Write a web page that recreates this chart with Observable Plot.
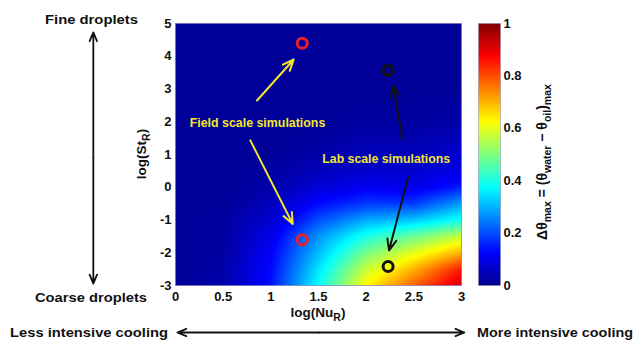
<!DOCTYPE html>
<html><head><meta charset="utf-8">
<script src="https://cdn.jsdelivr.net/npm/d3@7"></script>
<script src="https://cdn.jsdelivr.net/npm/@observablehq/plot@0.6"></script>
<style>
body{margin:0;background:#fff;}
#wrap{position:relative;width:637px;height:340px;overflow:hidden;}
#wrap svg{position:absolute;top:0;overflow:visible;}
</style></head><body><div id="wrap"></div>
<script>
// ---- data ----
const xTicks = [0, 0.5, 1, 1.5, 2, 2.5, 3];
const yTicks = [-3, -2, -1, 0, 1, 2, 3, 4, 5];
const cbTicks = [0, 0.2, 0.4, 0.6, 0.8, 1];
const gridX = [0, 0.5, 1, 1.5, 2, 2.5, 3];                        // log(Nu_R)
const gridY = [-3, -2.5, -2, -1.5, -1, -0.5, 0, 0.5, 1, 2, 3, 4, 5]; // log(St_R)
const dTheta = [
  [0.01, 0.03, 0.14, 0.38, 0.63, 0.78, 0.92],
  [0.01, 0.03, 0.13, 0.35, 0.57, 0.70, 0.85],
  [0.01, 0.02, 0.12, 0.31, 0.49, 0.60, 0.70],
  [0.01, 0.02, 0.10, 0.27, 0.40, 0.48, 0.57],
  [0.01, 0.02, 0.07, 0.20, 0.29, 0.32, 0.39],
  [0.01, 0.01, 0.05, 0.13, 0.18, 0.18, 0.28],
  [0.01, 0.01, 0.03, 0.08, 0.11, 0.10, 0.15],
  [0.01, 0.01, 0.02, 0.05, 0.07, 0.07, 0.10],
  [0.01, 0.01, 0.01, 0.03, 0.05, 0.05, 0.07],
  [0.01, 0.01, 0.01, 0.01, 0.02, 0.02, 0.03],
  [0.01, 0.01, 0.01, 0.01, 0.01, 0.01, 0.01],
  [0.01, 0.01, 0.01, 0.01, 0.01, 0.01, 0.01],
  [0.01, 0.01, 0.01, 0.01, 0.01, 0.01, 0.01]
];
const fieldNu = [1.33, 1.33];
const fieldSt = [4.4, -1.6];
const labNu = [2.23, 2.23];
const labSt = [3.57, -2.42];
const fieldLabel = [{x: 0.86, y: 1.95, text: "Field scale simulations"}];
const labLabel = [{x: 2.21, y: 0.87, text: "Lab scale simulations"}];
const fieldArrows = [
  {x1: 0.855, y1: 2.65, x2: 1.24, y2: 3.9},
  {x1: 0.785, y1: 1.43, x2: 1.23, y2: -1.12}
];
const labArrows = [
  {x1: 2.38, y1: 1.48, x2: 2.285, y2: 3.1},
  {x1: 2.44, y1: 0.31, x2: 2.24, y2: -1.93}
];
const sideArrows = [
  {x1: -0.862, y1: 0.9, x2: -0.862, y2: 4.73},
  {x1: -0.862, y1: 0.9, x2: -0.862, y2: -2.94},
  {x1: 1.5, y1: -4.435, x2: 0.02, y2: -4.435},
  {x1: 1.5, y1: -4.435, x2: 3.03, y2: -4.435}
];

// ---- styles ----
const FONT = '"Liberation Sans", Arial, sans-serif';
const jetDomain = [0, 0.125, 0.375, 0.625, 0.875, 1];
const jetRange = ["#00008f", "#0000ff", "#00ffff", "#ffff00", "#ff0000", "#800000"];
const colorScale = {type: "linear", domain: jetDomain, range: jetRange, interpolate: "rgb", clamp: true};
const YELLOW = "#f2e530";

const cells = [];
gridY.forEach((y, i) => gridX.forEach((x, j) => cells.push({x, y, v: dTheta[i][j]})));
const fieldPts = fieldNu.map((x, i) => ({x, y: fieldSt[i]}));
const labPts = labNu.map((x, i) => ({x, y: labSt[i]}));

// bilinear interpolation between the grid samples (custom raster interpolator)
function bilinear(index, width, height, X, Y, V) {
  const xs = Array.from(new Set(Array.from(index, i => X[i]))).sort((a, b) => a - b);
  const ys = Array.from(new Set(Array.from(index, i => Y[i]))).sort((a, b) => a - b);
  const m = new Map();
  for (const i of index) m.set(X[i] + "," + Y[i], +V[i]);
  const get = (a, b) => m.get(xs[a] + "," + ys[b]);
  const out = new Float64Array(width * height);
  for (let r = 0; r < height; r++) {
    const py = r + 0.5;
    let b = 0;
    while (b < ys.length - 2 && py > ys[b + 1]) b++;
    const ty = Math.max(0, Math.min(1, (py - ys[b]) / (ys[b + 1] - ys[b])));
    for (let c = 0; c < width; c++) {
      const px = c + 0.5;
      let a = 0;
      while (a < xs.length - 2 && px > xs[a + 1]) a++;
      const tx = Math.max(0, Math.min(1, (px - xs[a]) / (xs[a + 1] - xs[a])));
      const v0 = get(a, b) * (1 - tx) + get(a + 1, b) * tx;
      const v1 = get(a, b + 1) * (1 - tx) + get(a + 1, b + 1) * tx;
      out[r * width + c] = v0 * (1 - ty) + v1 * ty;
    }
  }
  return out;
}

const main = Plot.plot({
  width: 637, height: 340,
  marginLeft: 175, marginRight: 176, marginTop: 23, marginBottom: 55,
  style: {fontFamily: FONT, fontWeight: "bold", fontSize: "13px", background: "transparent", color: "#111"},
  x: {domain: [0, 3], ticks: xTicks, tickSize: 0, tickPadding: 6, label: null, tickFormat: d => String(d)},
  y: {domain: [-3, 5], ticks: yTicks, tickSize: 0, tickPadding: 4, label: null, tickFormat: d => String(d)},
  color: colorScale,
  marks: [
    Plot.raster(cells, {x: "x", y: "y", fill: "v", interpolate: bilinear, x1: 0, x2: 3, y1: -3, y2: 5, pixelSize: 1}),
    Plot.frame({stroke: "#6a6ab8", strokeWidth: 0.6}),
    Plot.arrow(fieldArrows, {x1: "x1", y1: "y1", x2: "x2", y2: "y2", stroke: YELLOW, strokeWidth: 2, headLength: 9, headAngle: 45}),
    Plot.arrow(labArrows, {x1: "x1", y1: "y1", x2: "x2", y2: "y2", stroke: "#111", strokeWidth: 2, headLength: 9, headAngle: 45}),
    Plot.arrow(sideArrows, {x1: "x1", y1: "y1", x2: "x2", y2: "y2", stroke: "#111", strokeWidth: 1.8, headLength: 8, headAngle: 45}),
    Plot.dot(fieldPts, {x: "x", y: "y", r: 5, stroke: "#e5202c", strokeWidth: 3, fill: "none"}),
    Plot.dot(labPts, {x: "x", y: "y", r: 5, stroke: "#111", strokeWidth: 3, fill: "none"}),
    Plot.text(fieldLabel, {x: "x", y: "y", text: "text", fill: YELLOW, fontSize: 12.4, fontWeight: "bold"}),
    Plot.text(labLabel, {x: "x", y: "y", text: "text", fill: YELLOW, fontSize: 12.3, fontWeight: "bold"})
  ]
});
main.style.left = "0px";
document.getElementById("wrap").appendChild(main);

// colorbar
const cb = Plot.plot({
  width: 159, height: 340,
  marginLeft: 0, marginRight: 137, marginTop: 23, marginBottom: 55,
  style: {fontFamily: FONT, fontWeight: "bold", fontSize: "13px", background: "transparent", color: "#111"},
  x: {domain: [0, 1], axis: null},
  y: {domain: [0, 1], ticks: cbTicks, tickSize: 0, tickPadding: 3, axis: "right", label: null, tickFormat: d => String(d)},
  color: colorScale,
  marks: [
    Plot.raster({fill: (x, y) => y, x1: 0, x2: 1, y1: 0, y2: 1, pixelSize: 1}),
    Plot.frame({stroke: "#8888aa", strokeWidth: 0.5})
  ]
});
cb.style.left = "478px";
document.getElementById("wrap").appendChild(cb);

// ---- labels with subscripts ----
const svg = d3.select(main);
function addText(x, y, str, size, len) {
  return svg.append("text").attr("x", x).attr("y", y).attr("font-family", FONT)
    .attr("font-weight", "bold").attr("font-size", size).attr("fill", "#111")
    .attr("text-anchor", "start")
    .attr("textLength", len).attr("lengthAdjust", "spacingAndGlyphs").text(str);
}
addText(45, 24, "Fine droplets", 13, 93);
addText(35, 301.5, "Coarse droplets", 13, 112);
addText(10, 336.5, "Less intensive cooling", 13, 158);
addText(477, 336.5, "More intensive cooling", 13, 156);

function subLabel(g, parts, size, subSize, shift) {
  let offset = 0;
  parts.forEach(([s, sub]) => {
    const target = sub ? shift : 0;
    g.append("tspan").attr("dy", target - offset).attr("font-size", sub ? subSize : size).text(s);
    offset = target;
  });
}
const xl = svg.append("text").attr("x", 318).attr("y", 316.5).attr("text-anchor", "middle")
  .attr("font-family", FONT).attr("font-weight", "bold").attr("fill", "#111");
subLabel(xl, [["log(Nu"], ["R", 1], [")"]], 13.5, 10.5, 4);

const yl = svg.append("text").attr("transform", "translate(146,154) rotate(-90)").attr("text-anchor", "middle")
  .attr("font-family", FONT).attr("font-weight", "bold").attr("fill", "#111");
subLabel(yl, [["log(St"], ["R", 1], [")"]], 13.5, 10.5, 4);

const cbs = d3.select(cb);
const cl = cbs.append("text").attr("transform", "translate(69,162) rotate(-90)").attr("text-anchor", "middle")
  .attr("font-family", FONT).attr("font-weight", "bold").attr("fill", "#111");
subLabel(cl, [["\u0394\u03B8"], ["max", 1], [" = (\u03B8"], ["water", 1], [" \u2212 \u03B8"], ["oil", 1], [")"], ["max", 1]], 14, 10.5, 4);
</script></body></html>
